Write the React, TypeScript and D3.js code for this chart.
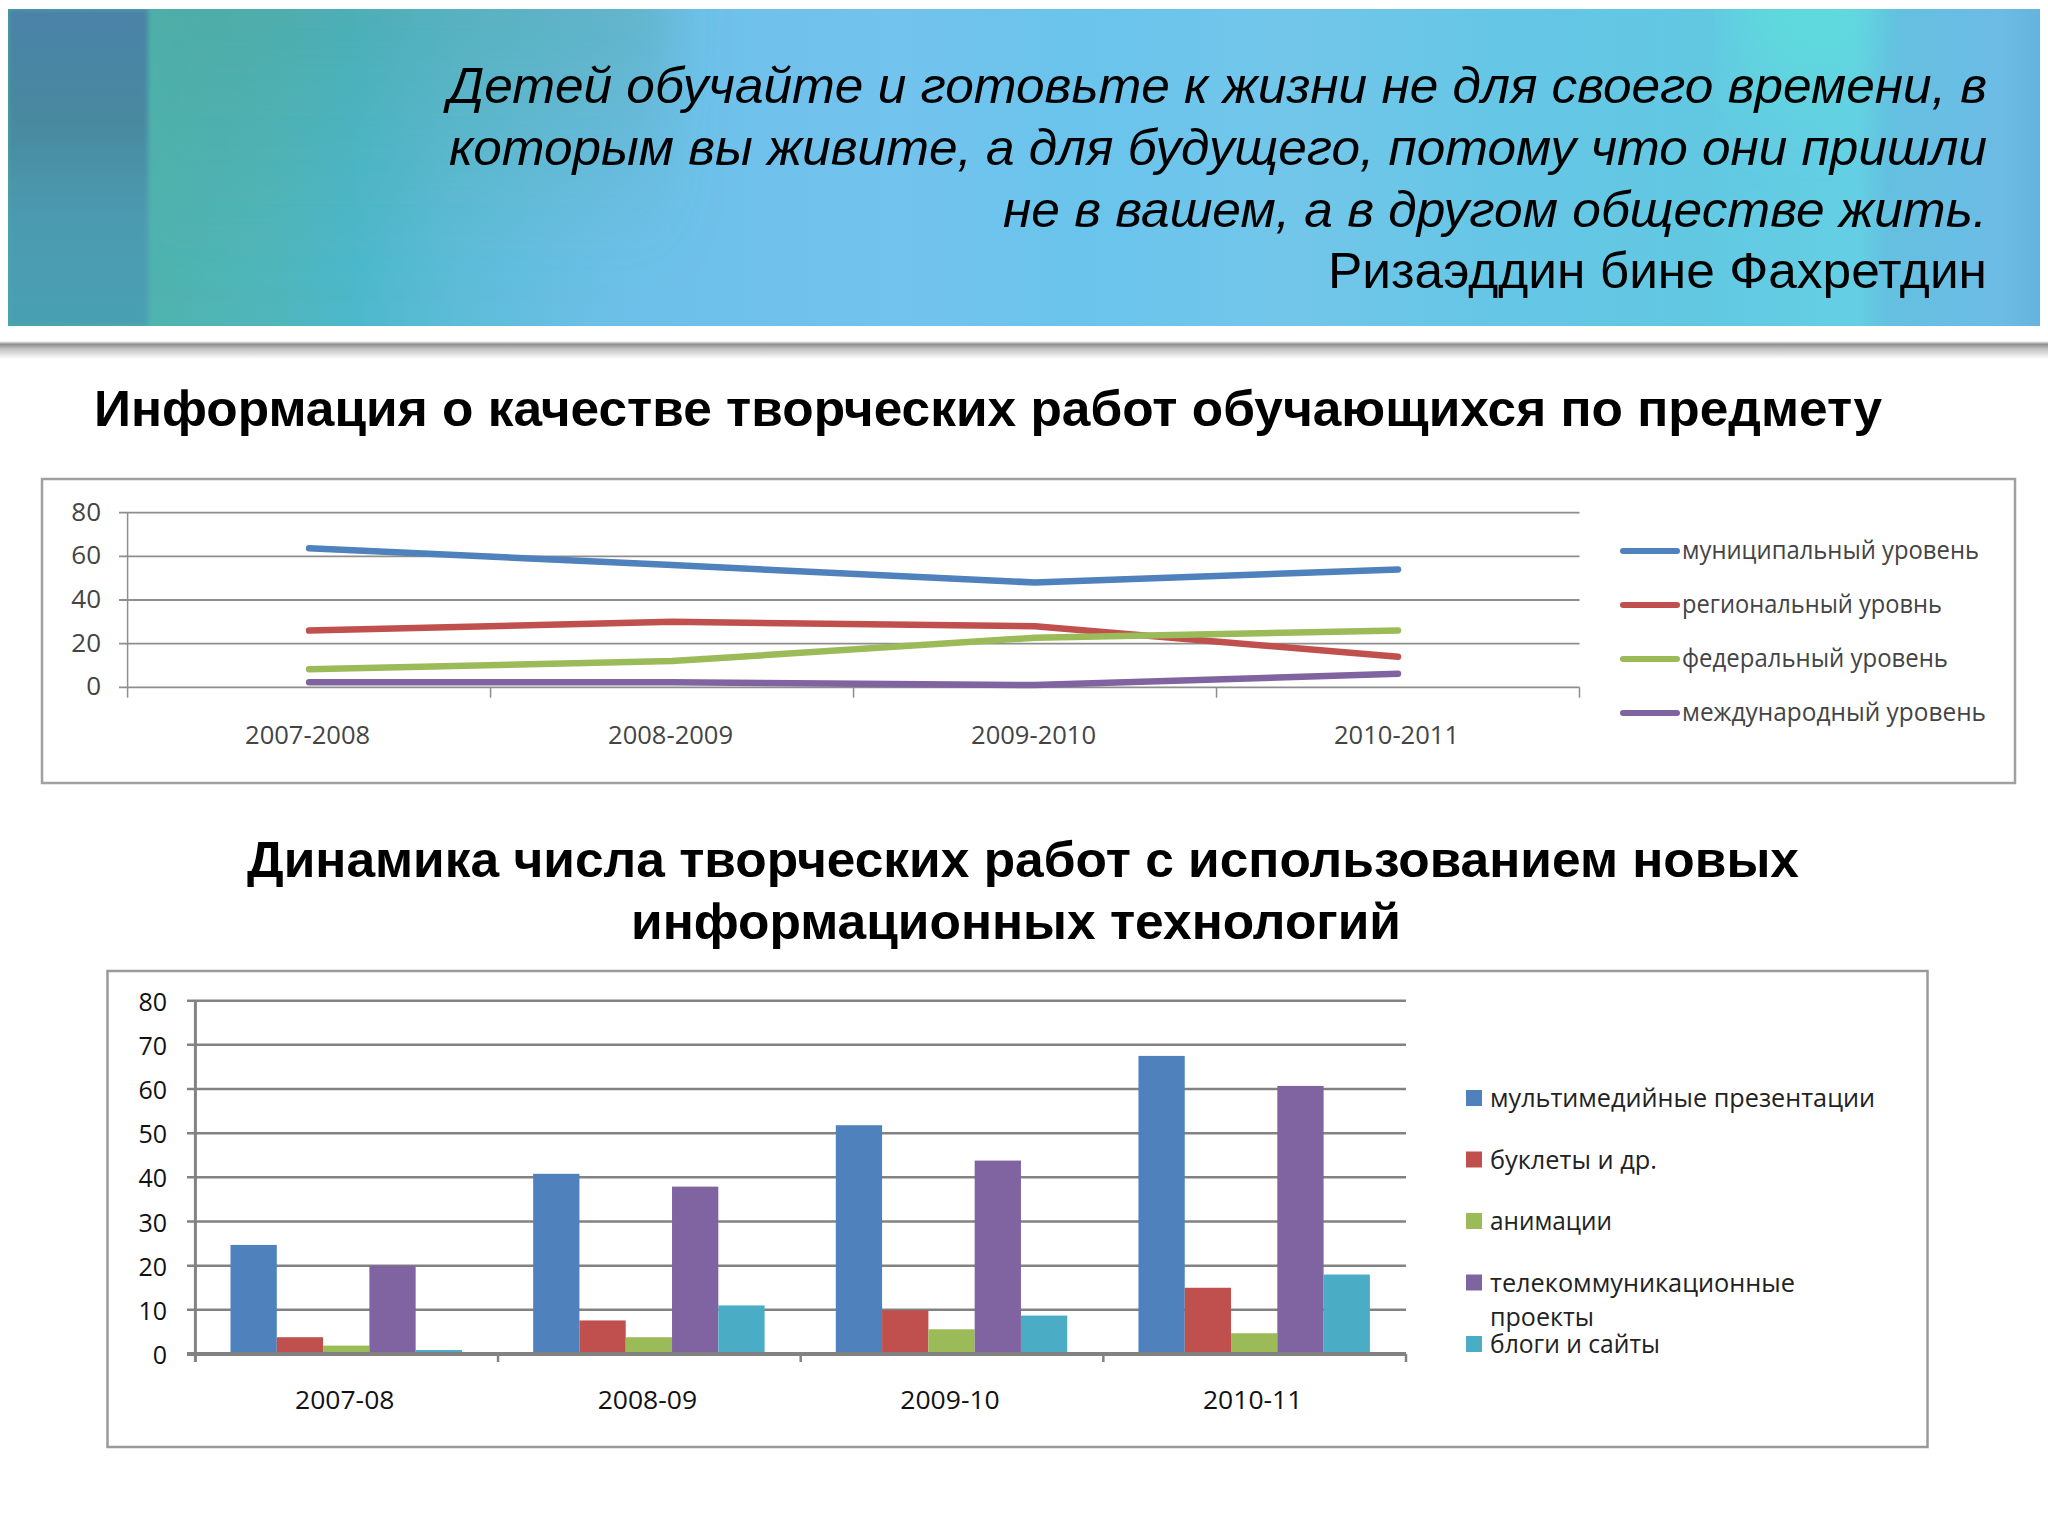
import React from "react";
import * as d3 from "d3";

const quoteLines = [
  "Детей обучайте и готовьте к жизни не для своего времени, в",
  "которым вы живите, а для будущего, потому что они пришли",
  "не в вашем, а в другом обществе жить.",
];
const quoteAuthor = "Ризаэддин бине Фахретдин";
const title1 = "Информация о качестве творческих работ обучающихся по предмету";
const title2 = ["Динамика числа творческих работ с использованием новых", "информационных технологий"];

const lineYears = ["2007-2008", "2008-2009", "2009-2010", "2010-2011"];
const municipal = [63.7, 56, 48, 54];
const regional = [26, 30, 28, 14];
const federal = [8.3, 12, 22.7, 26];
const international = [2.3, 2.3, 1, 6.2];
const lineNames = ["муниципальный уровень", "региональный уровнь", "федеральный уровень", "международный уровень"];
const lineTicks = [0, 20, 40, 60, 80];

const barYears = ["2007-08", "2008-09", "2009-10", "2010-11"];
const multimedia = [24.7, 40.8, 51.8, 67.5];
const booklets = [3.8, 7.6, 9.9, 15];
const animation = [1.9, 3.8, 5.6, 4.7];
const telecom = [20, 37.9, 43.8, 60.7];
const blogs = [0.9, 11, 8.7, 18];
const barNames = ["мультимедийные презентации", "буклеты и др.", "анимации", "телекоммуникационные", "блоги и сайты"];
const barNameExtra = "проекты";
const barTicks = [0, 10, 20, 30, 40, 50, 60, 70, 80];

const palette = ["#4f81bd", "#c0504d", "#9bbb59", "#8064a2", "#4bacc6"];
const lineSeries = [municipal, regional, federal, international];
const barSeries = [multimedia, booklets, animation, telecom, blogs];

const bandStops: [number, string][] = [
  [0, "#4aab9f"], [0.07, "#4fb3ae"], [0.13, "#50b6bb"], [0.17, "#4cb8cb"], [0.22, "#5dbcd8"],
  [0.3, "#6cc0e8"], [0.44, "#72c3ee"], [0.53, "#6ac4ec"], [0.63, "#72c6ea"], [0.73, "#66c6e6"],
  [0.83, "#62c8e2"], [0.91, "#64cfe4"], [0.925, "#64c0e0"], [0.98, "#6cbce6"], [1, "#64b4de"],
];

const SANS = "'Liberation Sans', Arial, sans-serif";
const UI = "'Open Sans', 'Noto Sans', sans-serif";

function FitText({ x, y, w, size, anchor = "start", family = UI, weight = 400, italic = false, fill = "#222", children }: any) {
  return (
    <text x={x} y={y} fontSize={size} fontFamily={family} fontWeight={weight} fontStyle={italic ? "italic" : "normal"}
      textAnchor={anchor} fill={fill} textLength={w} lengthAdjust="spacingAndGlyphs">{children}</text>
  );
}

function LineChart() {
  const x = d3.scaleBand().domain(lineYears).range([127.6, 1579.5]);
  const y = d3.scaleLinear().domain([0, 80]).range([687.3, 512.7]);
  const line = d3.line<number>().x((_, i) => x(lineYears[i])! + x.bandwidth() / 2).y((d) => y(d));
  const gridColor = "#8e8e8e";
  const legendY = d3.scalePoint<number>().domain([0, 1, 2, 3]).range([551, 713]);
  const legendW = [297, 260, 266, 304];
  return (
    <g>
      <rect x={42} y={479} width={1973} height={304} fill="#fff" stroke="#a0a0a0" strokeWidth={2.5} />
      {lineTicks.map((t) => (
        <g key={t}>
          <line x1={119} x2={1579.5} y1={y(t)} y2={y(t)} stroke={gridColor} strokeWidth={1.8} />
          <text x={101} y={y(t) + 8} textAnchor="end" fontSize={26} fontFamily={UI} fill="#444">{t}</text>
        </g>
      ))}
      <line x1={127.6} x2={127.6} y1={512.7} y2={697.7} stroke={gridColor} strokeWidth={1.5} />
      {lineYears.map((c) => (
        <g key={c}>
          <line x1={x(c)! + x.bandwidth()} x2={x(c)! + x.bandwidth()} y1={687.3} y2={697.7} stroke={gridColor} strokeWidth={1.5} />
          <FitText x={x(c)! + x.bandwidth() / 2 - 1.5} y={744} w={125} size={26} anchor="middle" fill="#444">{c}</FitText>
        </g>
      ))}
      {lineSeries.map((s, i) => (
        <path key={i} d={line(s)!} fill="none" stroke={palette[i]} strokeWidth={6.5} strokeLinecap="round" strokeLinejoin="round" />
      ))}
      {lineNames.map((n, i) => (
        <g key={n}>
          <line x1={1623} x2={1677} y1={legendY(i)!} y2={legendY(i)!} stroke={palette[i]} strokeWidth={6} strokeLinecap="round" />
          <FitText x={1682} y={legendY(i)! + 8} w={legendW[i]} size={25.5} fill="#444">{n}</FitText>
        </g>
      ))}
    </g>
  );
}

function BarChart() {
  const x0 = d3.scaleBand().domain(barYears).range([195.4, 1406]);
  const x1 = d3.scaleBand<number>().domain([0, 1, 2, 3, 4]).range([-1, x0.bandwidth()]).paddingOuter(0.78);
  const y = d3.scaleLinear().domain([0, 80]).range([1354, 1000.7]);
  const gridColor = "#828282";
  const legendY = d3.scaleLinear().domain([0, 4]).range([1107, 1353]);
  const legendW = [385, 167, 122, 305, 170];
  return (
    <g>
      <rect x={107.5} y={971} width={1820} height={476} fill="#fff" stroke="#9a9a9a" strokeWidth={2.5} />
      {barTicks.map((t) => (
        <g key={t}>
          <line x1={187} x2={1406} y1={y(t)} y2={y(t)} stroke={gridColor} strokeWidth={t === 0 ? 4 : 2.5} />
          <text x={167} y={y(t) + 10} textAnchor="end" fontSize={25} fontFamily={UI} fill="#111">{t}</text>
        </g>
      ))}
      {barSeries.map((s, i) => s.map((v, j) => (
        <rect key={`${i}-${j}`} x={x0(barYears[j])! + x1(i)!} width={x1.bandwidth()} y={y(v)} height={y(0) - y(v)} fill={palette[i]} />
      )))}
      <line x1={187} x2={1406} y1={y(0)} y2={y(0)} stroke={gridColor} strokeWidth={4} />
      <line x1={195.4} x2={195.4} y1={y(80)} y2={1362} stroke={gridColor} strokeWidth={3} />
      {barYears.map((c) => (
        <g key={c}>
          <line x1={x0(c)! + x0.bandwidth()} x2={x0(c)! + x0.bandwidth()} y1={y(0)} y2={1362} stroke={gridColor} strokeWidth={2.5} />
          <FitText x={x0(c)! + x0.bandwidth() / 2 - 2} y={1409} w={99.5} size={25} anchor="middle" fill="#111">{c}</FitText>
        </g>
      ))}
      {barNames.map((n, i) => (
        <g key={n}>
          <rect x={1466} y={legendY(i) - 17} width={16} height={16} fill={palette[i]} />
          <FitText x={1490} y={legendY(i)} w={legendW[i]} size={25} fill="#222">{n}</FitText>
        </g>
      ))}
      <FitText x={1490} y={1325.5} w={104} size={25} fill="#222">{barNameExtra}</FitText>
    </g>
  );
}

export default function App() {
  const quoteW = [1539, 1538, 984];
  const quoteY = [103, 165, 227];
  return (
    <svg width={2048} height={1536} style={{ position: "absolute", left: 0, top: 0, background: "#fff" }}>
      <defs>
        <linearGradient id="banner" x1="0" x2="1" y1="0" y2="0">
          {bandStops.map(([o, c]) => <stop key={o} offset={o} stopColor={c} />)}
        </linearGradient>
        <linearGradient id="leftBand" x1="0" x2="0" y1="0" y2="1">
          <stop offset="0" stopColor="#4b82a8" />
          <stop offset="0.35" stopColor="#49899f" />
          <stop offset="0.65" stopColor="#4c9ab0" />
          <stop offset="1" stopColor="#4aa0b2" />
        </linearGradient>
        <linearGradient id="topGlow" x1="0" x2="0" y1="0" y2="1">
          <stop offset="0" stopColor="#5ce0d8" stopOpacity="0.9" />
          <stop offset="1" stopColor="#5ce0d8" stopOpacity="0" />
        </linearGradient>
        <linearGradient id="topDark" x1="0" x2="0" y1="0" y2="1">
          <stop offset="0" stopColor="#4a9d8e" stopOpacity="0.4" />
          <stop offset="1" stopColor="#4a9d8e" stopOpacity="0" />
        </linearGradient>
        <linearGradient id="shade" x1="0" x2="0" y1="0" y2="1">
          <stop offset="0" stopColor="#fff" />
          <stop offset="0.18" stopColor="#8f8f8f" />
          <stop offset="0.45" stopColor="#c4c4c4" />
          <stop offset="1" stopColor="#fff" />
        </linearGradient>
        <filter id="soft" x="-20%" y="-20%" width="140%" height="140%"><feGaussianBlur stdDeviation="28" /></filter>
        <filter id="softer" x="-5%" y="-5%" width="110%" height="110%"><feGaussianBlur stdDeviation="2.5" /></filter>
        <clipPath id="bannerClip"><rect x={8} y={9} width={2032} height={317} /></clipPath>
      </defs>
      <g clipPath="url(#bannerClip)">
        <rect x={8} y={9} width={2032} height={317} fill="url(#banner)" />
        <rect x={150} y={-30} width={520} height={300} fill="url(#topDark)" filter="url(#soft)" />
        <rect x={1740} y={-30} width={130} height={190} fill="url(#topGlow)" filter="url(#soft)" />
        <rect x={8} y={9} width={140} height={317} fill="url(#leftBand)" filter="url(#softer)" />
      </g>
      <rect x={0} y={341} width={2048} height={18} fill="url(#shade)" />

      {quoteLines.map((l, i) => (
        <FitText key={i} x={1987} y={quoteY[i]} w={quoteW[i]} size={50} anchor="end" family={SANS} italic fill="#000">{l}</FitText>
      ))}
      <FitText x={1987} y={288} w={659} size={50} anchor="end" family={SANS} fill="#000">{quoteAuthor}</FitText>

      <FitText x={94} y={426} w={1788} size={50} family={SANS} weight={700} fill="#000">{title1}</FitText>
      <LineChart />
      <FitText x={1023} y={877} w={1552} size={50} anchor="middle" family={SANS} weight={700} fill="#000">{title2[0]}</FitText>
      <FitText x={1016} y={939} w={770} size={50} anchor="middle" family={SANS} weight={700} fill="#000">{title2[1]}</FitText>
      <BarChart />
    </svg>
  );
}
